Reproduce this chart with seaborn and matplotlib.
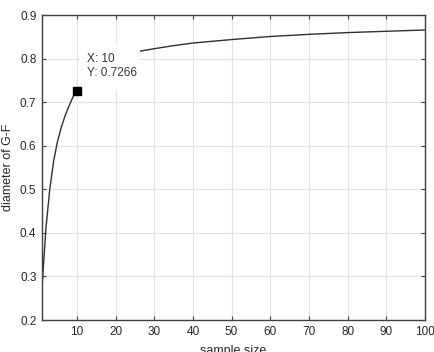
import numpy as np
import pandas as pd
import matplotlib
matplotlib.use('Agg')
import matplotlib.pyplot as plt
from matplotlib.patches import Rectangle
import seaborn as sns

# sample size vs diameter of G-F
sample_size = [1, 2, 3, 4, 5, 6, 7, 8, 9, 10, 12, 15, 20, 26, 30, 35, 40,
               50, 60, 70, 80, 90, 100]
diameter = [0.275, 0.41, 0.50, 0.565, 0.61, 0.643, 0.670, 0.692, 0.712, 0.7266,
            0.745, 0.77, 0.795, 0.817, 0.823, 0.830, 0.836,
            0.844, 0.851, 0.856, 0.860, 0.863, 0.866]
tip_x, tip_y = 10, 0.7266

x_ticks = [10, 20, 30, 40, 50, 60, 70, 80, 90, 100]
y_ticks = [0.2, 0.3, 0.4, 0.5, 0.6, 0.7, 0.8, 0.9]

sns.set_theme(style='ticks')
plt.rcParams['font.family'] = ['Liberation Sans', 'DejaVu Sans']

df = pd.DataFrame({'sample size': sample_size, 'diameter of G-F': diameter})

fig = plt.figure(figsize=(4.35, 3.52), dpi=100)
ax = fig.add_axes([0.0966, 0.0909, 0.8805, 0.866])

sns.lineplot(data=df, x='sample size', y='diameter of G-F', ax=ax,
             color='#303030', linewidth=1.0)
ax.plot([tip_x], [tip_y], marker='s', color='black', markersize=6, zorder=5)

# datatip: white box hides the curve and grid behind it
ax.add_patch(Rectangle((10.8, 0.729), 26.3 - 10.8, 0.833 - 0.729,
                       facecolor='white', edgecolor='none', zorder=4))
ax.text(12.6, 0.800, f'X: {tip_x}', fontsize=8.5, color='#333333',
        ha='left', va='center', zorder=6)
ax.text(12.6, 0.767, f'Y: {tip_y}', fontsize=8.5, color='#333333',
        ha='left', va='center', zorder=6)

ax.set_xlim(1, 100)
ax.set_ylim(0.2, 0.9)
ax.set_xticks(x_ticks)
ax.set_yticks(y_ticks)
ax.set_yticklabels([f'{v:.1f}' for v in y_ticks])
ax.grid(True, color='#e3e3e3', linewidth=0.8)
ax.set_axisbelow(True)
ax.tick_params(direction='in', length=3, width=0.8, colors='#404040',
               labelsize=8.5, labelcolor='#262626', top=True, right=True,
               pad=4)
for s in ax.spines.values():
    s.set_color('#404040')
    s.set_linewidth(1.0)
ax.set_xlabel('sample size', fontsize=9, color='#262626', labelpad=5)
ax.set_ylabel('diameter of G-F', fontsize=9, color='#262626', labelpad=4)

fig.savefig('out.png', dpi=100)
